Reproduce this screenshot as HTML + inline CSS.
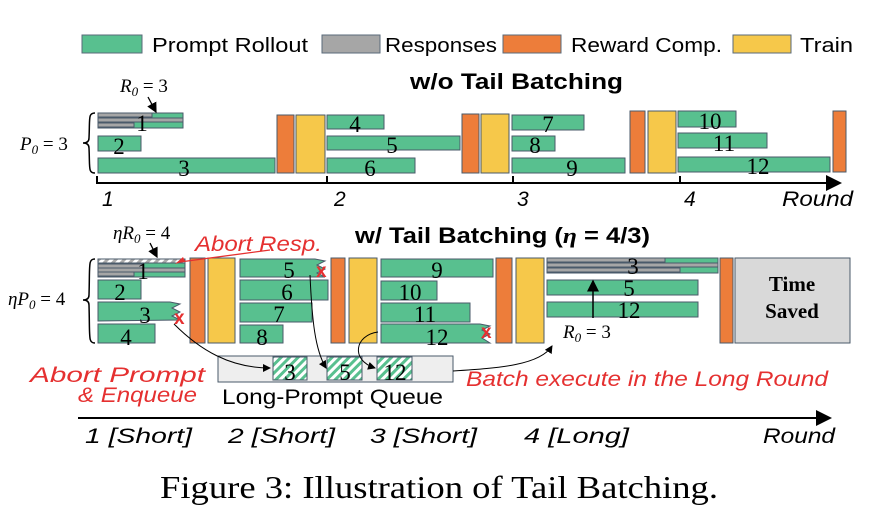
<!DOCTYPE html>
<html><head><meta charset="utf-8"><style>body{margin:0;background:#fff}svg{display:block}</style></head><body>
<svg width="874" height="522" viewBox="0 0 874 522" xmlns="http://www.w3.org/2000/svg" font-family="Liberation Sans, sans-serif">
<defs>
<pattern id="h" width="6" height="6" patternUnits="userSpaceOnUse" patternTransform="rotate(45)"><rect width="6" height="6" fill="#fff"/><rect width="3" height="6" fill="#58c08f"/></pattern>
<pattern id="hg" width="6" height="6" patternUnits="userSpaceOnUse" patternTransform="rotate(45)"><rect width="6" height="6" fill="#fff"/><rect width="3" height="6" fill="#aaa"/></pattern>
<marker id="a" markerWidth="8" markerHeight="8" refX="7" refY="4" orient="auto"><path d="M0,0L8,4L0,8z" fill="#000"/></marker>
</defs>
<g stroke="#5a6a7a" stroke-width="1">
<rect x="82" y="35" width="60" height="18" fill="#58c08f"/>
<rect x="322" y="35" width="58" height="18" fill="#a6a6a6"/>
<rect x="503" y="35" width="58" height="18" fill="#ed7d3a"/>
<rect x="733" y="35" width="58" height="18" fill="#f6c84a"/>
</g>
<g font-size="20" fill="#000">
<text x="152" y="52" textLength="156" lengthAdjust="spacingAndGlyphs">Prompt Rollout</text><text x="385" y="52" textLength="112" lengthAdjust="spacingAndGlyphs">Responses</text>
<text x="571" y="52" textLength="151" lengthAdjust="spacingAndGlyphs">Reward Comp.</text><text x="800" y="52" textLength="53" lengthAdjust="spacingAndGlyphs">Train</text>
</g>
<text x="410" y="89" font-size="22" font-weight="bold" textLength="213" lengthAdjust="spacingAndGlyphs">w/o Tail Batching</text>
<g stroke="#4a5a6a" stroke-width="1">
<g fill="#58c08f">
<rect x="98" y="113" width="85" height="15"/>
<rect x="98" y="136" width="43" height="15"/>
<rect x="98" y="158" width="177" height="15"/>
<rect x="327" y="115" width="57" height="14"/>
<rect x="327" y="136" width="133" height="14"/>
<rect x="327" y="158" width="88" height="15"/>
<rect x="512" y="115" width="72" height="15"/>
<rect x="512" y="136" width="43" height="15"/>
<rect x="512" y="158" width="113" height="15"/>
<rect x="678" y="111" width="58" height="16"/>
<rect x="678" y="133" width="89" height="15"/>
<rect x="678" y="157" width="152" height="15"/>
</g>
<rect x="98" y="113" width="54" height="4" fill="#a6a6a6"/>
<rect x="98" y="118" width="85" height="4" fill="#a6a6a6"/>
<rect x="98" y="123" width="36" height="4" fill="#a6a6a6"/>
<g fill="#ed7d3a"><rect x="277" y="115" width="17" height="58"/><rect x="462" y="114" width="17" height="59"/><rect x="630" y="111" width="15" height="62"/><rect x="833" y="111" width="13" height="61"/></g>
<g fill="#f6c84a"><rect x="296" y="115" width="29" height="58"/><rect x="481" y="114" width="28" height="59"/><rect x="648" y="111" width="28" height="62"/></g>
</g>
<g font-size="23" text-anchor="middle" font-family="Liberation Serif, serif">
<text x="142" y="131">1</text><text x="119" y="154">2</text><text x="184" y="176">3</text>
<text x="355" y="132">4</text><text x="392" y="153">5</text><text x="370" y="176">6</text>
<text x="548" y="132">7</text><text x="535" y="153">8</text><text x="572" y="176">9</text>
<text x="710" y="129">10</text><text x="724" y="151">11</text><text x="758" y="174">12</text>
</g>
<path d="M97,176V183H840" fill="none" stroke="#000" stroke-width="2" marker-end="url(#a)"/>
<path d="M327,176V183M513,176V183M680,176V183" stroke="#000" stroke-width="2"/>
<g font-size="21" font-style="italic">
<text x="102" y="206">1</text><text x="334" y="206">2</text><text x="517" y="206">3</text><text x="684" y="206">4</text><text x="782" y="206" textLength="71" lengthAdjust="spacingAndGlyphs">Round</text>
</g>
<text x="20" y="150" font-size="19" font-family="Liberation Serif, serif" font-style="italic">P<tspan font-size="13" dy="4">0</tspan><tspan dy="-4" font-style="normal"> = 3</tspan></text>
<path d="M95,113 C88,113 90,118 89,138 C89,142 86,143 83,143 C86,143 89,144 89,148 C90,168 88,173 95,173" fill="none" stroke="#000" stroke-width="1.5"/>
<text x="120" y="92" font-size="19" font-family="Liberation Serif, serif" font-style="italic">R<tspan font-size="13" dy="4">0</tspan><tspan dy="-4" font-style="normal"> = 3</tspan></text>
<path d="M148,97L156,112" stroke="#000" stroke-width="1.3" marker-end="url(#a)"/>

<text x="355" y="243" font-size="22" font-weight="bold" textLength="295" lengthAdjust="spacingAndGlyphs">w/ Tail Batching (<tspan font-family="Liberation Serif, serif" font-style="italic">η</tspan> = 4/3)</text>
<g stroke="#4a5a6a" stroke-width="1">
<g fill="#58c08f">
<rect x="98" y="259" width="87" height="18"/>
<rect x="98" y="280" width="43" height="19"/>
<path d="M98,302H170L180,304L172,308L180,312L172,316L180,320L98,321Z"/>
<rect x="98" y="324" width="57" height="19"/>
<path d="M240,259H315L325,261L317,265L325,269L317,273L325,277L240,277Z"/>
<rect x="240" y="280" width="88" height="20"/>
<rect x="240" y="303" width="72" height="19"/>
<rect x="240" y="325" width="43" height="18"/>
<rect x="381" y="259" width="112" height="18"/>
<rect x="381" y="281" width="56" height="19"/>
<rect x="381" y="303" width="89" height="19"/>
<path d="M381,324H480L490,326L482,330L490,334L482,338L490,343L381,343Z"/>
<rect x="547" y="258" width="171" height="15"/>
<rect x="547" y="280" width="151" height="15"/>
<rect x="547" y="302" width="151" height="15"/>
</g>
<rect x="98" y="259" width="87" height="4" fill="url(#hg)"/>
<rect x="98" y="264" width="45" height="4" fill="#a6a6a6"/>
<rect x="98" y="268" width="87" height="4" fill="#a6a6a6"/>
<rect x="98" y="272" width="36" height="4" fill="#a6a6a6"/>
<rect x="547" y="258" width="118" height="4" fill="#a6a6a6"/>
<rect x="547" y="263" width="171" height="4" fill="#a6a6a6"/>
<rect x="547" y="268" width="133" height="4" fill="#a6a6a6"/>
<g fill="#ed7d3a"><rect x="190" y="258" width="15" height="85"/><rect x="331" y="258" width="14" height="85"/><rect x="496" y="258" width="16" height="85"/><rect x="720" y="258" width="13" height="85"/></g>
<g fill="#f6c84a"><rect x="208" y="258" width="27" height="85"/><rect x="349" y="258" width="28" height="85"/><rect x="516" y="258" width="28" height="85"/></g>
<rect x="735" y="258" width="115" height="85" fill="#d9d9d9"/>
<rect x="218" y="356" width="235" height="26" fill="#eee"/>
<rect x="273" y="357" width="34" height="23" fill="url(#h)"/>
<rect x="327" y="357" width="35" height="23" fill="url(#h)"/>
<rect x="377" y="357" width="35" height="23" fill="url(#h)"/>
</g>
<text x="792" y="291" font-size="21" font-weight="bold" text-anchor="middle" font-family="Liberation Serif, serif">Time</text>
<text x="792" y="318" font-size="21" font-weight="bold" text-anchor="middle" font-family="Liberation Serif, serif">Saved</text>
<g font-size="23" text-anchor="middle" font-family="Liberation Serif, serif">
<text x="143" y="279">1</text><text x="120" y="300">2</text><text x="145" y="323">3</text><text x="126" y="345">4</text>
<text x="289" y="278">5</text><text x="287" y="300">6</text><text x="279" y="322">7</text><text x="262" y="345">8</text>
<text x="437" y="278">9</text><text x="410" y="300">10</text><text x="425" y="322">11</text><text x="437" y="345">12</text>
<text x="633" y="274">3</text><text x="629" y="296">5</text><text x="629" y="318">12</text>
<text x="290" y="380">3</text><text x="345" y="380">5</text><text x="395" y="380">12</text>
</g>
<g fill="#e53030" font-size="19" font-weight="bold"><text x="174" y="324">x</text><text x="316" y="277">x</text><text x="481" y="338">x</text></g>
<path d="M593,318V281" stroke="#000" stroke-width="1.5" marker-end="url(#a)"/>
<text x="563" y="338" font-size="19" font-family="Liberation Serif, serif" font-style="italic">R<tspan font-size="13" dy="4">0</tspan><tspan dy="-4" font-style="normal"> = 3</tspan></text>
<text x="113" y="239" font-size="19" font-family="Liberation Serif, serif" font-style="italic">ηR<tspan font-size="13" dy="4">0</tspan><tspan dy="-4" font-style="normal"> = 4</tspan></text>
<path d="M150,243L157,257" stroke="#000" stroke-width="1.3" marker-end="url(#a)"/>
<text x="8" y="305" font-size="19" font-family="Liberation Serif, serif" font-style="italic">ηP<tspan font-size="13" dy="4">0</tspan><tspan dy="-4" font-style="normal"> = 4</tspan></text>
<path d="M95,259 C88,259 90,264 89,295 C89,299 86,300 83,300 C86,300 89,301 89,305 C90,338 88,343 95,343" fill="none" stroke="#000" stroke-width="1.5"/>
<g fill="none" stroke="#000" stroke-width="1">
<path d="M174,324 C200,350 230,368 270,368" marker-end="url(#a)"/>
<path d="M310,275 C312,320 315,350 326,368" marker-end="url(#a)"/>
<path d="M378,332 C355,335 350,360 375,368" marker-end="url(#a)"/>
<path d="M453,371 C500,368 540,365 552,346" marker-end="url(#a)"/>
</g>
<path d="M270,250L180,262" stroke="#e53030" stroke-width="1.3" fill="none"/>
<path d="M185,261L175,264L183,257z" fill="#e53030"/>
<g fill="#e53030" font-style="italic" font-size="21">
<text x="195" y="251" textLength="127" lengthAdjust="spacingAndGlyphs">Abort Resp.</text>
<text x="30" y="382" textLength="175" lengthAdjust="spacingAndGlyphs">Abort  Prompt</text>
<text x="78" y="402" textLength="119" lengthAdjust="spacingAndGlyphs">&amp; Enqueue</text>
<text x="466" y="386" textLength="362" lengthAdjust="spacingAndGlyphs">Batch execute in the Long Round</text>
</g>
<text x="222" y="404" font-size="21" textLength="221" lengthAdjust="spacingAndGlyphs">Long-Prompt Queue</text>
<path d="M78,418H830" stroke="#000" stroke-width="2" marker-end="url(#a)"/>
<g font-size="21" font-style="italic">
<text x="85" y="443" textLength="107" lengthAdjust="spacingAndGlyphs">1 [Short]</text><text x="228" y="443" textLength="107" lengthAdjust="spacingAndGlyphs">2 [Short]</text><text x="370" y="443" textLength="107" lengthAdjust="spacingAndGlyphs">3 [Short]</text><text x="524" y="443" textLength="105" lengthAdjust="spacingAndGlyphs">4 [Long]</text><text x="763" y="443" textLength="72" lengthAdjust="spacingAndGlyphs">Round</text>
</g>
<text x="160" y="498" font-size="32" font-family="Liberation Serif, serif" textLength="558" lengthAdjust="spacingAndGlyphs">Figure 3: Illustration of Tail Batching.</text>
</svg>
</body></html>
